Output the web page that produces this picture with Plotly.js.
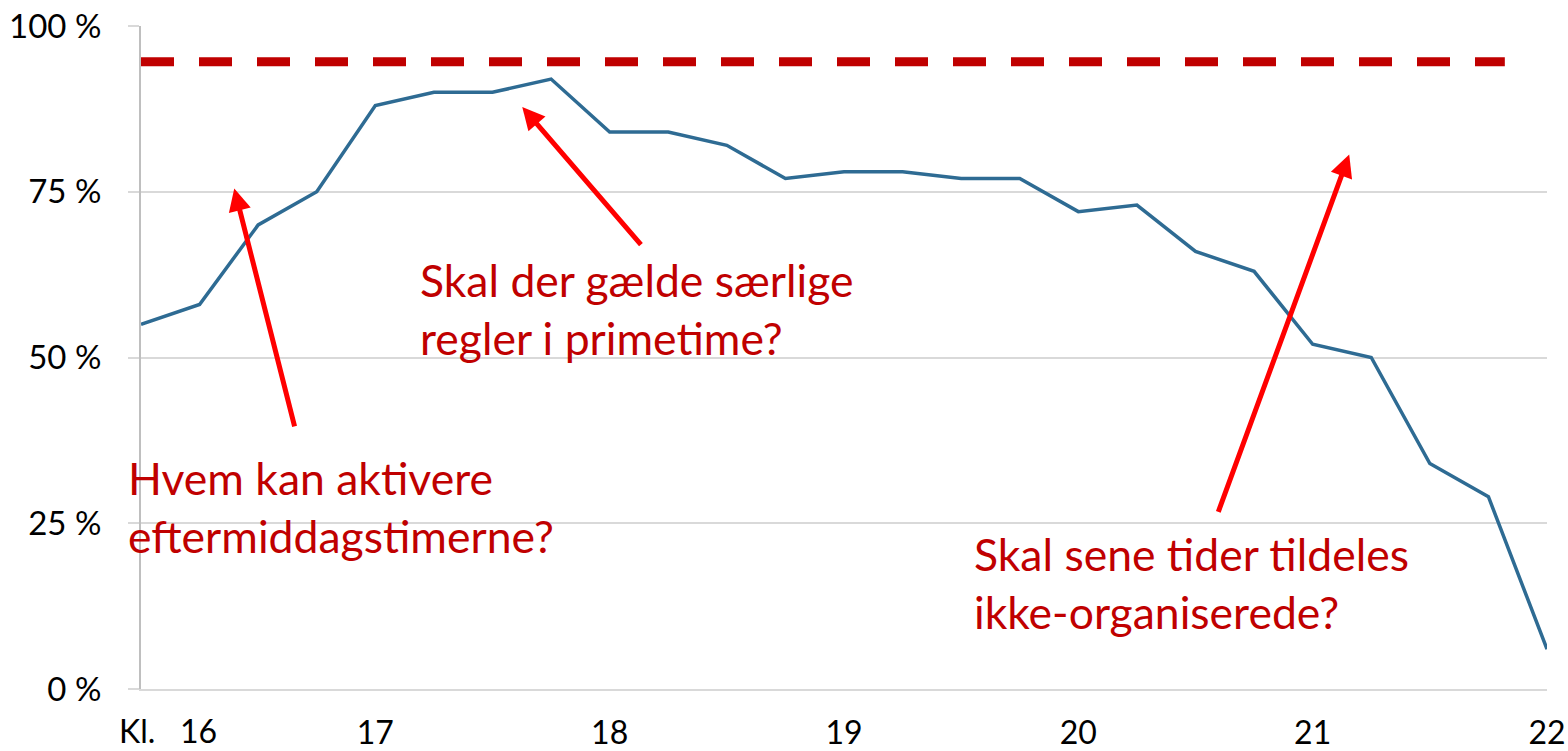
<!DOCTYPE html>
<html>
<head>
<meta charset="utf-8">
<script src="https://cdn.plot.ly/plotly-3.0.1.min.js"></script>
<style>html,body{margin:0;padding:0;background:#fff;}#chart{width:1568px;height:751px;}</style>
</head>
<body>
<div id="chart"></div>
<script>
// Time of day (hours, 15-minute steps from 16:00 to 22:00)
const hours = [16, 16.25, 16.5, 16.75, 17, 17.25, 17.5, 17.75, 18, 18.25, 18.5, 18.75,
               19, 19.25, 19.5, 19.75, 20, 20.25, 20.5, 20.75, 21, 21.25, 21.5, 21.75, 22];
// Occupancy (%)
const occupancy = [55, 58, 70, 75, 88, 90, 90, 92, 84, 84, 82, 77,
                   78, 78, 77, 77, 72, 73, 66, 63, 52, 50, 34, 29, 6];
// Target level (%)
const targetLevel = 94.6;
const targetStart = 16;
const targetEnd = 21.82;
// Axis ticks
const xTickVals = [16, 17, 18, 19, 20, 21, 22];
const xTickText = ["", "17", "18", "19", "20", "21", "22"];
const yTickVals = [0, 25, 50, 75, 100];
const yTickText = ["0 %", "25 %", "50 %", "75 %", "100 %"];
// Questions and arrows
const questions = [
  "Hvem kan aktivere<br>eftermiddagstimerne?",
  "Skal der gælde særlige<br>regler i primetime?",
  "Skal sene tider tildeles<br>ikke-organiserede?"
];
const questionX = [16, 17.19, 19.559];
const questionXShift = [-15, -2, -3];
const questionY = [36.2, 66.0, 24.8];
const arrowHeadX = [16.398, 17.627, 21.156];
const arrowHeadY = [75.5, 87.8, 80.6];
const arrowTailX = [16.657, 18.139, 20.595];
const arrowTailY = [39.4, 66.8, 26.5];

const FONT = "Lato, 'Open Sans', sans-serif";

const traces = [
  {
    x: [targetStart, targetEnd],
    y: [targetLevel, targetLevel],
    mode: 'lines',
    line: {color: '#C00000', width: 9, dash: '33px,25px'},
    hoverinfo: 'skip',
    showlegend: false
  },
  {
    x: hours,
    y: occupancy,
    mode: 'lines',
    line: {color: '#2E6B93', width: 3.5},
    showlegend: false
  }
];

const annotations = [];
questions.forEach((q, i) => {
  annotations.push({
    x: questionX[i], y: questionY[i], xref: 'x', yref: 'y',
    xanchor: 'left', yanchor: 'top', align: 'left', xshift: questionXShift[i],
    text: q, showarrow: false,
    font: {family: FONT, size: 44.5, color: '#C00000'}
  });
  annotations.push({
    x: arrowHeadX[i], y: arrowHeadY[i], xref: 'x', yref: 'y',
    ax: arrowTailX[i], ay: arrowTailY[i], axref: 'x', ayref: 'y',
    text: '', showarrow: true, arrowhead: 2, arrowsize: 0.9,
    arrowwidth: 5, arrowcolor: '#FF0000', standoff: 0, startstandoff: 0
  });
});
annotations.push({
  x: 16, y: 0, xref: 'x', yref: 'y', xanchor: 'left', yanchor: 'top',
  xshift: -24, yshift: -20,
  text: 'Kl.&nbsp;&nbsp;&nbsp;16', showarrow: false,
  font: {family: FONT, size: 32, color: '#000000'}
});

const layout = {
  width: 1568, height: 751,
  margin: {l: 141, r: 21, t: 26, b: 62},
  paper_bgcolor: '#ffffff', plot_bgcolor: '#ffffff',
  font: {family: FONT, size: 32, color: '#000000'},
  xaxis: {
    range: [16, 22], tickmode: 'array', tickvals: xTickVals, ticktext: xTickText,
    showgrid: false, zeroline: false, showline: true, linecolor: '#D9D9D9', linewidth: 2,
    ticks: '', ticklabelstandoff: 15,
    tickfont: {family: FONT, size: 32, color: '#000000'}
  },
  yaxis: {
    range: [0, 100], tickmode: 'array', tickvals: yTickVals, ticktext: yTickText,
    showgrid: true, gridcolor: '#D9D9D9', gridwidth: 2,
    zeroline: false, showline: true, linecolor: '#BFBFBF', linewidth: 2,
    ticks: 'outside', ticklen: 11, tickcolor: '#D9D9D9', tickwidth: 2,
    ticklabelstandoff: 20,
    tickfont: {family: FONT, size: 33, color: '#000000'}
  },
  annotations: annotations,
  showlegend: false
};

Plotly.newPlot('chart', traces, layout, {displayModeBar: false, staticPlot: true});
</script>
</body>
</html>
